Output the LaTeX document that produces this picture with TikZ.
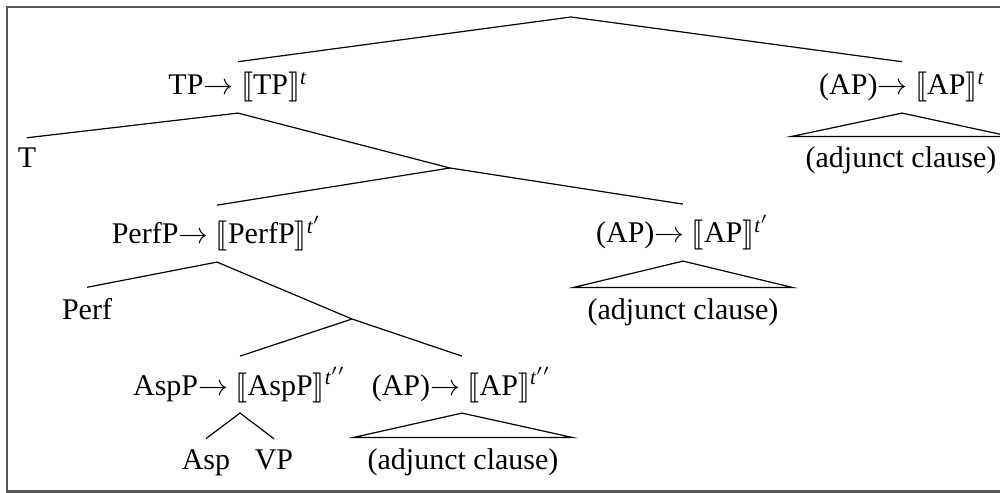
\documentclass[tikz,border=0pt]{standalone}
\usepackage{amsmath}
\usepackage{stmaryrd}
\usepackage{fontspec}
\setmainfont{Liberation Serif}
\newcommand{\sem}[3]{#1$\rightarrow$ $\llbracket$#2$\rrbracket^{\textit{t}#3}$}
\tikzset{lbl/.style={anchor=base,inner sep=3.33pt},
  clause/.style={lbl,inner xsep=4.7pt}}
\begin{document}
\begin{tikzpicture}[x=0.3333pt,y=-0.3333pt]
\useasboundingbox (0,0) rectangle (1000,493);
\clip (0,0) rectangle (1000,493);

% frame
\draw[black!65,line width=0.7pt] (1030,7) -- (7,7) -- (7,491.5) -- (1030,491.5);

% labels
\node[lbl] (tp) at (238,95) {\sem{TP}{TP}{}};
\node[lbl] (apt) at (902,95) {\sem{(AP)}{AP}{}};
\node[lbl] (t) at (27,168) {T};
\node[clause] (adjt) at (901,168) {(adjunct clause)};
\node[lbl] (perfp) at (217,244) {\sem{PerfP}{PerfP}{'}};
\node[lbl] (apm) at (683,243) {\sem{(AP)}{AP}{'}};
\node[lbl] (perf) at (87,319) {Perf};
\node[clause] (adjm) at (683,319) {(adjunct clause)};
\node[lbl] (aspp) at (240,395) {\sem{AspP}{AspP}{''}};
\node[lbl] (apl) at (462,395) {\sem{(AP)}{AP}{''}};
\node[lbl] (asp) at (206,469) {Asp};
\node[lbl] (vp) at (274,469) {VP};
\node[clause] (adjl) at (463,469) {(adjunct clause)};
\coordinate (root) at (571,17);
\coordinate (xa) at (450,168);
\coordinate (xb) at (352,319);

% branches
\draw (tp.north) -- (root) -- (apt.north)
      (t.north) -- (tp.south) -- (xa) -- (apm.north)
      (perfp.north) -- (xa)
      (perf.north) -- (perfp.south) -- (xb) -- (apl.north)
      (aspp.north) -- (xb)
      (asp.north) -- (aspp.south) -- (vp.north);

% triangles
\draw (apt.south) -- (adjt.north west) -- (adjt.north east) -- cycle
      (apm.south) -- (adjm.north west) -- (adjm.north east) -- cycle
      (apl.south) -- (adjl.north west) -- (adjl.north east) -- cycle;
\end{tikzpicture}
\end{document}
